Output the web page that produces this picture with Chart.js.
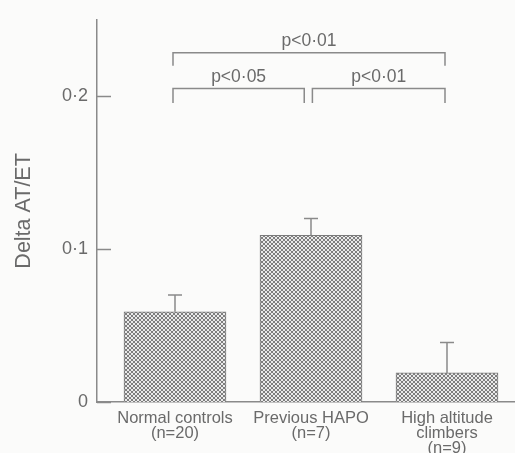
<!DOCTYPE html>
<html>
<head>
<meta charset="utf-8">
<script src="https://cdn.jsdelivr.net/npm/chart.js@4/dist/chart.umd.min.js"></script>
<style>
  html, body { margin: 0; padding: 0; background: #fbfbfa; }
  #wrap { width: 515px; height: 453px; position: relative; }
</style>
</head>
<body>
<div id="wrap"><canvas id="chart"></canvas></div>
<script>
// Data
const groups = [['Normal controls', '(n=20)'], ['Previous HAPO', '(n=7)'], ['High altitude', 'climbers', '(n=9)']];
const means = [0.059, 0.109, 0.019];
const errors = [0.011, 0.011, 0.020];
const yTicks = [0, 0.1, 0.2];
const comparisons = ['p<0·05', 'p<0·01', 'p<0·01'];

const INK = '#6a6a6a';
const LINE = '#8a8a8a';
const FONT = "'Liberation Sans', Arial, sans-serif";

// Crosshatch fill for the bars
function hatch() {
    const c = document.createElement('canvas');
    c.width = 4; c.height = 4;
    const g = c.getContext('2d');
    g.fillStyle = '#eaeaea';
    g.fillRect(0, 0, 4, 4);
    g.strokeStyle = '#7e7e7e';
    g.lineWidth = 1;
    g.beginPath();
    g.moveTo(-1, -1); g.lineTo(5, 5);
    g.moveTo(5, -1); g.lineTo(-1, 5);
    g.stroke();
    return g.createPattern(c, 'repeat');
}

// Error bars, inward tick marks and significance brackets
const extras = {
    id: 'extras',
    afterDatasetsDraw(chart) {
        const ctx = chart.ctx;
        const x = chart.scales.x, y = chart.scales.y;
        ctx.save();
        ctx.strokeStyle = LINE;
        ctx.lineWidth = 1.5;

        // inward y ticks
        yTicks.forEach(v => {
            const py = Math.round(y.getPixelForValue(v)) + 0.5;
            ctx.beginPath();
            ctx.moveTo(x.left, py);
            ctx.lineTo(x.left + 14, py);
            ctx.stroke();
        });

        // error bars (upper only)
        means.forEach((m, i) => {
            const px = x.getPixelForValue(i);
            const y0 = y.getPixelForValue(m);
            const y1 = y.getPixelForValue(m + errors[i]);
            ctx.beginPath();
            ctx.moveTo(px, y0);
            ctx.lineTo(px, y1);
            ctx.moveTo(px - 7, y1);
            ctx.lineTo(px + 7, y1);
            ctx.stroke();
        });

        // brackets
        const brackets = [
            { from: 0, to: 0.965, top: 0.205, leg: 0.1955, text: comparisons[0] },
            { from: 1.025, to: 2, top: 0.205, leg: 0.1955, text: comparisons[1] },
            { from: 0, to: 2, top: 0.2285, leg: 0.220, text: comparisons[2] }
        ];
        ctx.fillStyle = INK;
        ctx.font = '17.5px ' + FONT;
        ctx.textAlign = 'center';
        ctx.textBaseline = 'alphabetic';
        brackets.forEach(b => {
            const xa = x.getPixelForValue(b.from) - 2;
            const xb = x.getPixelForValue(b.to) - 2;
            const yt = y.getPixelForValue(b.top);
            const yl = y.getPixelForValue(b.leg);
            ctx.beginPath();
            ctx.moveTo(xa, yl);
            ctx.lineTo(xa, yt);
            ctx.lineTo(xb, yt);
            ctx.lineTo(xb, yl);
            ctx.stroke();
            ctx.fillText(b.text, (xa + xb) / 2, yt - 7);
        });
        ctx.restore();
    }
};

new Chart(document.getElementById('chart'), {
    type: 'bar',
    data: {
        datasets: [{
            data: means.map((m, i) => ({ x: i, y: m })),
            backgroundColor: hatch(),
            borderColor: '#7a7a7a',
            borderWidth: 1,
            barThickness: 102
        }]
    },
    options: {
        responsive: true,
        maintainAspectRatio: false,
        animation: false,
        layout: { padding: { top: 13, right: 0, left: 0, bottom: 0 } },
        plugins: { legend: { display: false }, tooltip: { enabled: false } },
        scales: {
            x: {
                type: 'linear',
                offset: false,
                min: -0.5735,
                max: 2.5,
                grid: { display: false, drawTicks: false, offset: false },
                border: { display: true, color: LINE, width: 1.5 },
                afterBuildTicks: s => { s.ticks = groups.map((_, i) => ({ value: i })); },
                afterFit: s => { s.height = 51; },
                ticks: {
                    autoSkip: false,
                    maxRotation: 0,
                    padding: 9,
                    color: INK,
                    font: { family: FONT, size: 16.5, lineHeight: 0.9 },
                    callback: v => groups[v]
                }
            },
            y: {
                min: 0,
                max: 0.25,
                grid: { display: false, drawTicks: false },
                border: { display: true, color: LINE, width: 1.5 },
                afterBuildTicks: s => { s.ticks = yTicks.map(v => ({ value: v })); },
                afterFit: s => { s.width = 97; },
                ticks: {
                    padding: 9,
                    color: INK,
                    font: { family: FONT, size: 18 },
                    callback: v => v === 0 ? '0' : v.toFixed(1).replace('.', '·')
                },
                title: {
                    display: true,
                    text: 'Delta AT/ET',
                    color: INK,
                    font: { family: FONT, size: 21.5 },
                    padding: { top: 11, bottom: 0 }
                }
            }
        }
    },
    plugins: [extras]
});
</script>
</body>
</html>
